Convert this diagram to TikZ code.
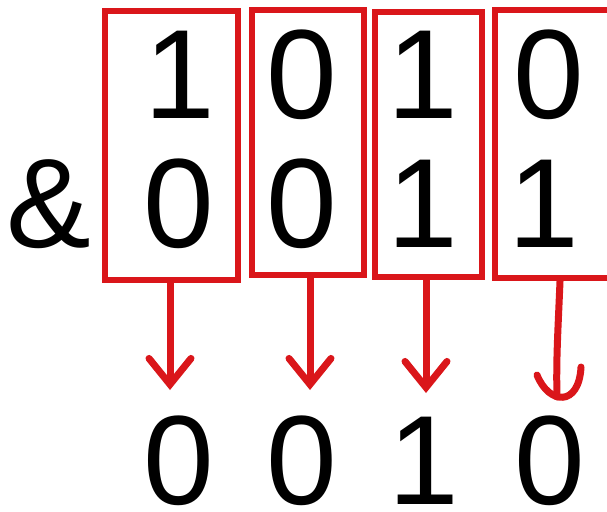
\documentclass[tikz,border=0pt]{standalone}
\usepackage{fontspec}
\setmainfont{Liberation Sans}
\usetikzlibrary{arrows.meta}
\definecolor{boxred}{RGB}{218,22,26}
\tikzset{
  digit/.style={inner sep=0pt,font=\fontsize{127}{127}\selectfont},
  bitbox/.style={draw=boxred,line width=6.5pt,inner sep=0pt},
  pick/.style={draw=boxred,line width=7pt,line cap=round,
    -{Straight Barb[length=26pt,width=42pt,line cap=round]}},
}

\begin{document}
\begin{tikzpicture}[x=1pt,y=-1pt]
      \useasboundingbox (0,0) rectangle (607,511);
      \foreach \i/\x/\y/\w/\h in {1/171.5/145.5/133/269, 2/308/142.5/112/265,
                                  3/428.5/144.5/107/265, 4/556.5/144/123/268}
      {
        \node [bitbox,minimum width=\w pt,minimum height=\h pt] at (\x,\y) (b\i) {};
      }
      \node [digit] at (48.5,204) (and) {\&};
      \foreach \i/\x/\d in {1/180/1, 2/302/0, 3/423/1, 4/549/0}
      {
        \node [digit] at (\x,75) (a\i) {\d};
      }
      \foreach \i/\x/\d in {1/179/0, 2/302/0, 3/423/1, 4/544/1}
      {
        \node [digit] at (\x,204) (m\i) {\d};
      }
      \foreach \i/\x/\d in {1/179/0, 2/302/0, 3/424/1, 4/550/0}
      {
        \node [digit] at (\x,461) (r\i) {\d};
      }
      \coordinate (t1) at (170,390);
      \coordinate (t2) at (310,390);
      \coordinate (t3) at (426,393);
      \coordinate (t4) at (557,397);
      \foreach \i in {1,2,3}
      {
        \draw [pick] (b\i.south -| t\i) -- (t\i);
      }
      % the last one is drawn with a hooked head
      \draw [pick,-] (b4.south -| 560,0) .. controls (558,330) and (556,360) .. (t4);
      \draw [pick,-] ([shift={(-20,-22)}]t4) .. controls ([shift={(-8,8)}]t4)
            and ([shift={(22,10)}]t4) .. ([shift={(24,-30)}]t4);
\end{tikzpicture}
\end{document}
